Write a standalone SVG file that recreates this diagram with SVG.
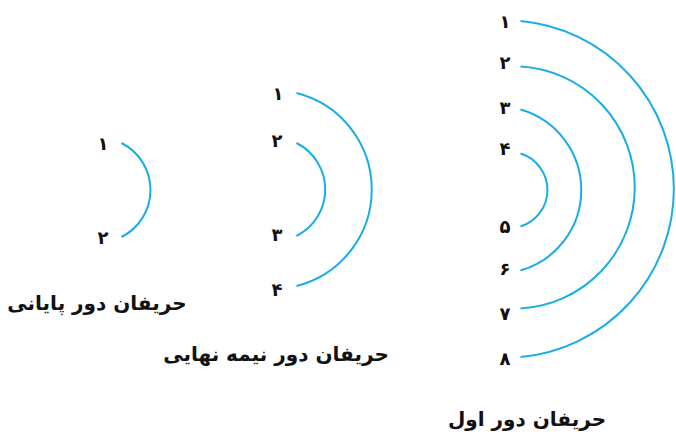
<svg xmlns="http://www.w3.org/2000/svg" width="676" height="437" viewBox="0 0 676 437">
<style>
.arc{fill:none;stroke:#19ADE8;stroke-width:2}
.n{font-family:"DejaVu Sans",sans-serif;font-weight:bold;font-size:18px;fill:#111;text-anchor:middle;dominant-baseline:central}
.cap{font-family:"DejaVu Sans",sans-serif;font-weight:bold;font-size:20px;fill:#111;text-anchor:middle;direction:rtl}
</style>
<rect width="676" height="437" fill="#fff"/>
<g id="connectors">
<path class="arc" d="M121.5,143 A52.6,52.6 0 0 1 121.5,237"/>
<path class="arc" d="M296.5,93 A99.5,99.5 0 0 1 296.5,286"/>
<path class="arc" d="M296.5,143 A52,52 0 0 1 296.5,236"/>
<path class="arc" d="M520.5,21 A168.7,168.7 0 0 1 520.5,357"/>
<path class="arc" d="M520.5,66.5 A121.2,121.2 0 0 1 520.5,308.5"/>
<path class="arc" d="M520.5,109.5 A83.7,83.7 0 0 1 520.5,270.5"/>
<path class="arc" d="M520.5,153.5 A38.2,38.2 0 0 1 520.5,226.5"/>
</g>
<g id="final">
<text class="n" x="103" y="143">۱</text>
<text class="n" x="103" y="237">۲</text>
<text class="cap" x="97" y="310">حریفان دور پایانی</text>
</g>
<g id="semifinal">
<text class="n" x="278" y="93">۱</text>
<text class="n" x="277" y="140">۲</text>
<text class="n" x="277" y="234">۳</text>
<text class="n" x="277" y="289">۴</text>
<text class="cap" x="276" y="361">حریفان دور نیمه نهایی</text>
</g>
<g id="first">
<text class="n" x="505" y="21">۱</text>
<text class="n" x="505" y="62">۲</text>
<text class="n" x="505" y="107">۳</text>
<text class="n" x="505" y="148">۴</text>
<text class="n" x="505" y="226">۵</text>
<text class="n" x="505" y="268">۶</text>
<text class="n" x="505" y="313">۷</text>
<text class="n" x="505" y="358">۸</text>
<text class="cap" x="527" y="426">حریفان دور اول</text>
</g>
</svg>
